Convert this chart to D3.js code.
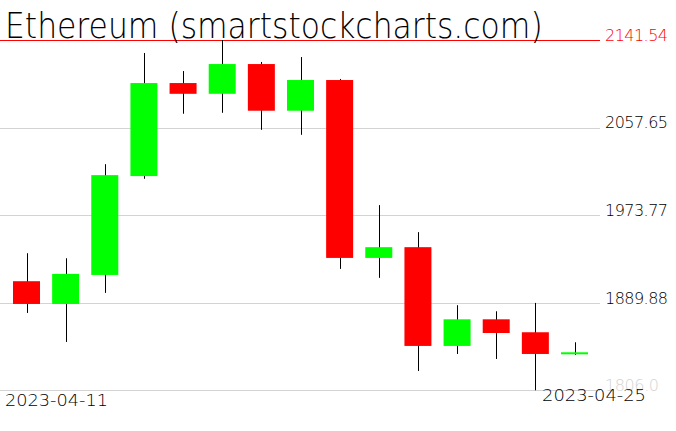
<!DOCTYPE html>
<html>
<head>
<meta charset="utf-8">
<script src="https://cdn.jsdelivr.net/npm/d3@7/dist/d3.min.js"></script>
<style>
  html, body { margin: 0; padding: 0; background: #fff; }
  svg { display: block; }
  text { font-family: "DejaVu Sans", sans-serif; font-weight: 200; }
</style>
</head>
<body>
<svg id="chart" width="676" height="431"></svg>
<script>
const dates = ["2023-04-11","2023-04-12","2023-04-13","2023-04-14","2023-04-15","2023-04-16","2023-04-17","2023-04-18","2023-04-19","2023-04-20","2023-04-21","2023-04-22","2023-04-23","2023-04-24","2023-04-25"];
const opens  = [1910.5, 1888.7, 1916.5, 2011.2, 2100.3, 2090.0, 2118.5, 2073.8, 2103.2, 1932.8, 1943.1, 1848.5, 1874.0, 1861.6, 1840.8];
const highs  = [1937.3, 1932.5, 2022.6, 2129.1, 2111.8, 2141.54, 2120.5, 2125.2, 2104.2, 1983.4, 1957.5, 1887.5, 1881.7, 1889.7, 1852.0];
const lows   = [1880.1, 1852.3, 1899.3, 2008.6, 2070.9, 2071.8, 2055.5, 2050.7, 1922.3, 1913.7, 1824.5, 1840.8, 1836.0, 1806.0, 1839.8];
const closes = [1888.7, 1917.5, 2012.1, 2100.3, 2090.0, 2118.5, 2073.8, 2103.2, 1932.8, 1943.1, 1848.5, 1874.0, 1860.9, 1840.8, 1842.4];
const tickValues = [2141.54, 2057.65, 1973.77, 1889.88, 1806.0];
const tickLabels = ["2141.54", "2057.65", "1973.77", "1889.88", "1806.0"];
const dateLabels = ["2023-04-11", "2023-04-25"];
const title = "Ethereum (smartstockcharts.com)";

const svg = d3.select("#chart");
const plotRight = 600;
const x = d3.scalePoint().domain(dates).range([26.5, 574.5]);
const y = d3.scaleLinear().domain([1806.0, 2141.54]).range([390.3, 40]);
const bodyW = 27;

// grid + right labels via axis
const yAxis = d3.axisRight(y)
  .tickValues(tickValues)
  .tickFormat((d, i) => tickLabels[i])
  .tickSizeInner(-plotRight)
  .tickSizeOuter(0)
  .tickPadding(5);
const gAxis = svg.append("g").attr("transform", `translate(${plotRight},0)`).call(yAxis);
gAxis.select(".domain").remove();
gAxis.selectAll(".tick line").attr("stroke", "#d3d3d3").attr("shape-rendering", "crispEdges");
gAxis.selectAll(".tick text")
  .attr("dy", "0.02em")
  .attr("font-size", 16)
  .attr("font-family", "DejaVu Sans")
  .attr("font-weight", 200)
  .attr("textLength", 63)
  .attr("fill", (d, i) => i === 0 ? "#ff0000" : (i === tickValues.length - 1 ? "#d3d3d3" : "#000"));
gAxis.selectAll(".tick").filter((d, i) => i === 0).select("line").attr("stroke", "#ff0000");
gAxis.selectAll(".tick").filter((d, i) => i === tickValues.length - 1).select("text").attr("textLength", 54);

const idx = d3.range(dates.length);
// wicks
svg.append("g").selectAll("line").data(idx).join("line")
  .attr("x1", i => Math.round(x(dates[i])) + 0.5)
  .attr("x2", i => Math.round(x(dates[i])) + 0.5)
  .attr("y1", i => y(highs[i]))
  .attr("y2", i => y(lows[i]))
  .attr("stroke", "#000")
  .attr("stroke-width", 1);
// bodies
svg.append("g").selectAll("rect").data(idx).join("rect")
  .attr("x", i => x(dates[i]) - bodyW / 2)
  .attr("width", bodyW)
  .attr("y", i => y(Math.max(opens[i], closes[i])))
  .attr("height", i => Math.max(2, Math.abs(y(opens[i]) - y(closes[i]))))
  .attr("fill", i => closes[i] >= opens[i] ? "#00ff00" : "#ff0000");

// title (scaled horizontally to the reference width)
const titleText = svg.append("text")
  .attr("x", 0).attr("y", 0)
  .attr("font-size", 36)
  .attr("fill", "#000")
  .text(title);
const natural = titleText.node().getComputedTextLength();
const sx = 538 / natural;
titleText.attr("transform", `translate(5,38) scale(${sx},1)`);

// date labels
svg.append("text")
  .attr("x", x(dateLabels[0]) - 21.5).attr("y", 406)
  .attr("font-size", 16.5)
  .attr("textLength", 103)
  .attr("lengthAdjust", "spacingAndGlyphs")
  .attr("fill", "#000")
  .text(dateLabels[0]);
svg.append("text")
  .attr("x", x(dateLabels[1]) - 32.5).attr("y", 401)
  .attr("font-size", 16.5)
  .attr("textLength", 104)
  .attr("lengthAdjust", "spacingAndGlyphs")
  .attr("fill", "#000")
  .text(dateLabels[1]);
</script>
</body>
</html>
